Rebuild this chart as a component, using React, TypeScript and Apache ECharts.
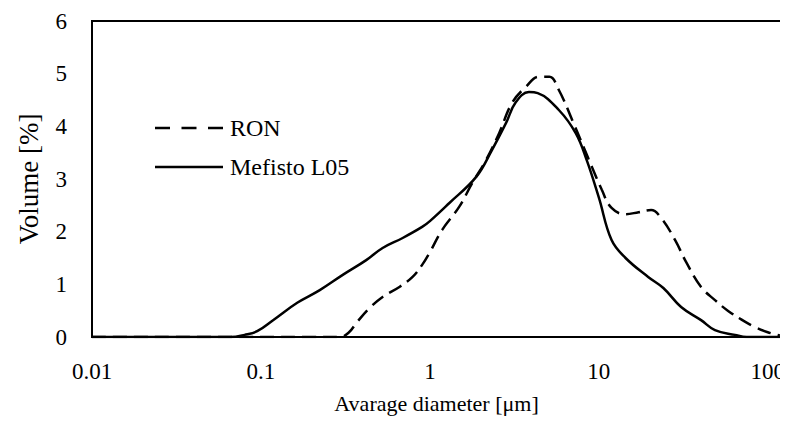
import React, { useEffect, useRef } from "react";
import * as echarts from "echarts";

// Mefisto L05 (solid)
const mefD = [0.01, 0.02, 0.04, 0.066, 0.08, 0.095, 0.118, 0.164, 0.223, 0.305, 0.42, 0.525, 0.69, 0.9, 1.0, 1.3, 1.88, 2.33, 2.82, 3.23, 3.86, 4.35, 5.8, 7.3, 8.5, 10, 11.9, 14.4, 19.6, 24.1, 30.7, 40.3, 48.7, 64, 75, 120];
const mefV = [0, 0, 0, 0, 0.04, 0.11, 0.32, 0.65, 0.89, 1.18, 1.46, 1.69, 1.88, 2.09, 2.2, 2.54, 3.04, 3.55, 4.06, 4.46, 4.65, 4.63, 4.31, 3.87, 3.35, 2.65, 1.84, 1.5, 1.14, 0.93, 0.57, 0.32, 0.13, 0.04, 0, 0];

// RON (dashed)
const ronD = [0.01, 0.1, 0.2, 0.293, 0.33, 0.37, 0.44, 0.525, 0.66, 0.79, 0.9, 1.0, 1.18, 1.49, 1.78, 2.15, 2.57, 3.06, 3.7, 4.42, 5.1, 5.8, 7.0, 8.7, 10.4, 11.9, 14.4, 17.2, 20.4, 23.4, 28.3, 32.9, 40.3, 48.7, 58, 70, 84, 100, 118];
const ronV = [0, 0, 0, 0, 0.08, 0.28, 0.55, 0.76, 0.95, 1.14, 1.37, 1.61, 2.03, 2.47, 2.92, 3.36, 3.87, 4.44, 4.75, 4.94, 4.94, 4.69, 4.1, 3.38, 2.8, 2.45, 2.33, 2.37, 2.41, 2.26, 1.84, 1.42, 0.95, 0.7, 0.5, 0.33, 0.19, 0.09, 0.03];

const xTickLabels = ["0.01", "0.1", "1", "10", "100"];
const seriesNames = ["RON", "Mefisto L05"];

const FONT = "Liberation Serif, serif";
const DASH = [14, 7];
const LEGEND_DASH = [15, 11.5];

export default function App() {
  const ref = useRef<HTMLDivElement>(null);
  useEffect(() => {
    if (!ref.current) return;
    const chart = echarts.init(ref.current, undefined, { renderer: "svg" });
    const zip = (d: number[], v: number[]) => d.map((x, i) => [x, v[i]]);
    const legendItem = (i: number, y: number, dashed: boolean) => [
      {
        type: "line",
        shape: { x1: 155, y1: y, x2: 223, y2: y },
        style: { stroke: "#000", lineWidth: 2.5, lineDash: dashed ? LEGEND_DASH : null },
      },
      {
        type: "text",
        x: 230,
        y,
        style: {
          text: seriesNames[i],
          fontFamily: FONT,
          fontSize: 24,
          fill: "#000",
          verticalAlign: "middle",
          align: "left",
        },
      },
    ];
    chart.setOption({
      animation: false,
      textStyle: { fontFamily: FONT, color: "#000" },
      grid: {
        left: 92,
        top: 21,
        right: 5,
        bottom: 90,
        show: true,
        borderColor: "#000",
        borderWidth: 2,
      },
      graphic: [...legendItem(0, 128, true), ...legendItem(1, 167, false)],
      xAxis: {
        type: "log",
        logBase: 10,
        min: 0.01,
        max: 120,
        name: "Avarage diameter [μm]",
        nameLocation: "middle",
        nameGap: 55,
        nameTextStyle: { fontFamily: FONT, fontSize: 22, color: "#000" },
        axisLine: { show: true, onZero: false, lineStyle: { color: "#000", width: 2 } },
        axisTick: { show: false },
        splitLine: { show: false },
        axisLabel: {
          fontFamily: FONT,
          fontSize: 23,
          color: "#000",
          margin: 23,
          showMaxLabel: false,
          formatter: (val: number) => {
            const s = xTickLabels.find((t) => Math.abs(parseFloat(t) - val) / parseFloat(t) < 1e-6);
            return s ?? "";
          },
        },
      },
      yAxis: {
        type: "value",
        min: 0,
        max: 6,
        interval: 1,
        name: "Volume [%]",
        nameLocation: "middle",
        nameGap: 50,
        nameTextStyle: { fontFamily: FONT, fontSize: 27, color: "#000" },
        axisLine: { show: true, lineStyle: { color: "#000", width: 2 } },
        axisTick: { show: false },
        splitLine: { show: false },
        axisLabel: { fontFamily: FONT, fontSize: 23, color: "#000", margin: 25 },
      },
      series: [
        {
          name: seriesNames[0],
          type: "line",
          data: zip(ronD, ronV),
          smooth: 0.4,
          symbol: "none",
          lineStyle: { color: "#000", width: 2.5, type: DASH },
        },
        {
          name: seriesNames[1],
          type: "line",
          data: zip(mefD, mefV),
          smooth: 0.4,
          symbol: "none",
          lineStyle: { color: "#000", width: 2.5, type: "solid" },
        },
      ],
    });
    return () => chart.dispose();
  }, []);
  return <div ref={ref} style={{ width: 788, height: 427, margin: -8 }} />;
}
